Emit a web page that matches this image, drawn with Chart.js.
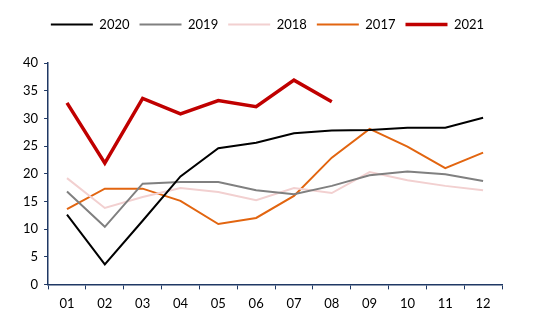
<!DOCTYPE html>
<html>
<head>
<meta charset="utf-8">
<script src="https://cdn.jsdelivr.net/npm/chart.js@4"></script>
<style>
  body { margin: 0; background: #fff; }
  #wrap { width: 550px; height: 323px; }
</style>
</head>
<body>
<div id="wrap"><canvas id="chart"></canvas></div>
<script>
const months = ["01", "02", "03", "04", "05", "06", "07", "08", "09", "10", "11", "12"];
const y2020 = [12.6, 3.6, 11.5, 19.5, 24.6, 25.6, 27.3, 27.8, 27.9, 28.3, 28.3, 30.1];
const y2019 = [16.8, 10.4, 18.2, 18.5, 18.5, 17.0, 16.3, 17.8, 19.7, 20.4, 19.9, 18.7];
const y2018 = [19.2, 13.8, 15.8, 17.4, 16.7, 15.2, 17.4, 16.5, 20.3, 18.8, 17.8, 17.0];
const y2017 = [13.6, 17.3, 17.3, 15.1, 10.9, 12.0, 16.0, 22.9, 28.1, 24.9, 21.0, 23.8];
const y2021 = [32.8, 21.9, 33.6, 30.8, 33.2, 32.1, 36.9, 33.0];

const axisColor = "#1f3864";

function series(label, values, color, width) {
    return {
        label: label,
        data: values,
        borderColor: color,
        backgroundColor: color,
        borderWidth: width,
        pointRadius: 0,
        tension: 0,
        fill: false
    };
}

// extra room under the legend, and nudge it right a bit
const legendGap = {
    id: "legendGap",
    beforeInit(chart) {
        const fit = chart.legend.fit;
        chart.legend.fit = function() {
            fit.bind(chart.legend)();
            this.height += 22;
        };
    },
    afterLayout(chart) {
        chart.legend.left += 8;
        chart.legend.right += 8;
    }
};

new Chart(document.getElementById("chart"), {
    type: "line",
    data: {
        labels: months,
        datasets: [
            series("2020", y2020, "#000000", 2),
            series("2019", y2019, "#808080", 2),
            series("2018", y2018, "#f2d0d0", 2),
            series("2017", y2017, "#e26510", 2),
            series("2021", y2021, "#c00000", 3.5)
        ]
    },
    plugins: [legendGap],
    options: {
        responsive: true,
        maintainAspectRatio: false,
        animation: false,
        layout: { padding: { top: 8, right: 48, left: 17, bottom: 4 } },
        plugins: {
            legend: {
                labels: {
                    usePointStyle: true,
                    pointStyle: "line",
                    pointStyleWidth: 42,
                    color: "#000",
                    font: { family: "Lato", size: 13 },
                    padding: 10
                }
            },
            tooltip: { enabled: false }
        },
        scales: {
            x: {
                offset: true,
                grid: {
                    offset: true,
                    drawOnChartArea: false,
                    color: axisColor,
                    tickLength: 5
                },
                border: { color: axisColor, width: 1.5 },
                ticks: { color: "#000", font: { family: "Lato", size: 13 }, padding: 7 }
            },
            y: {
                min: 0,
                max: 40,
                grid: {
                    drawOnChartArea: false,
                    color: axisColor,
                    tickLength: 4
                },
                border: { color: axisColor, width: 1.5 },
                ticks: { stepSize: 5, color: "#000", font: { family: "Lato", size: 13 }, padding: 6 }
            }
        }
    }
});
</script>
</body>
</html>
